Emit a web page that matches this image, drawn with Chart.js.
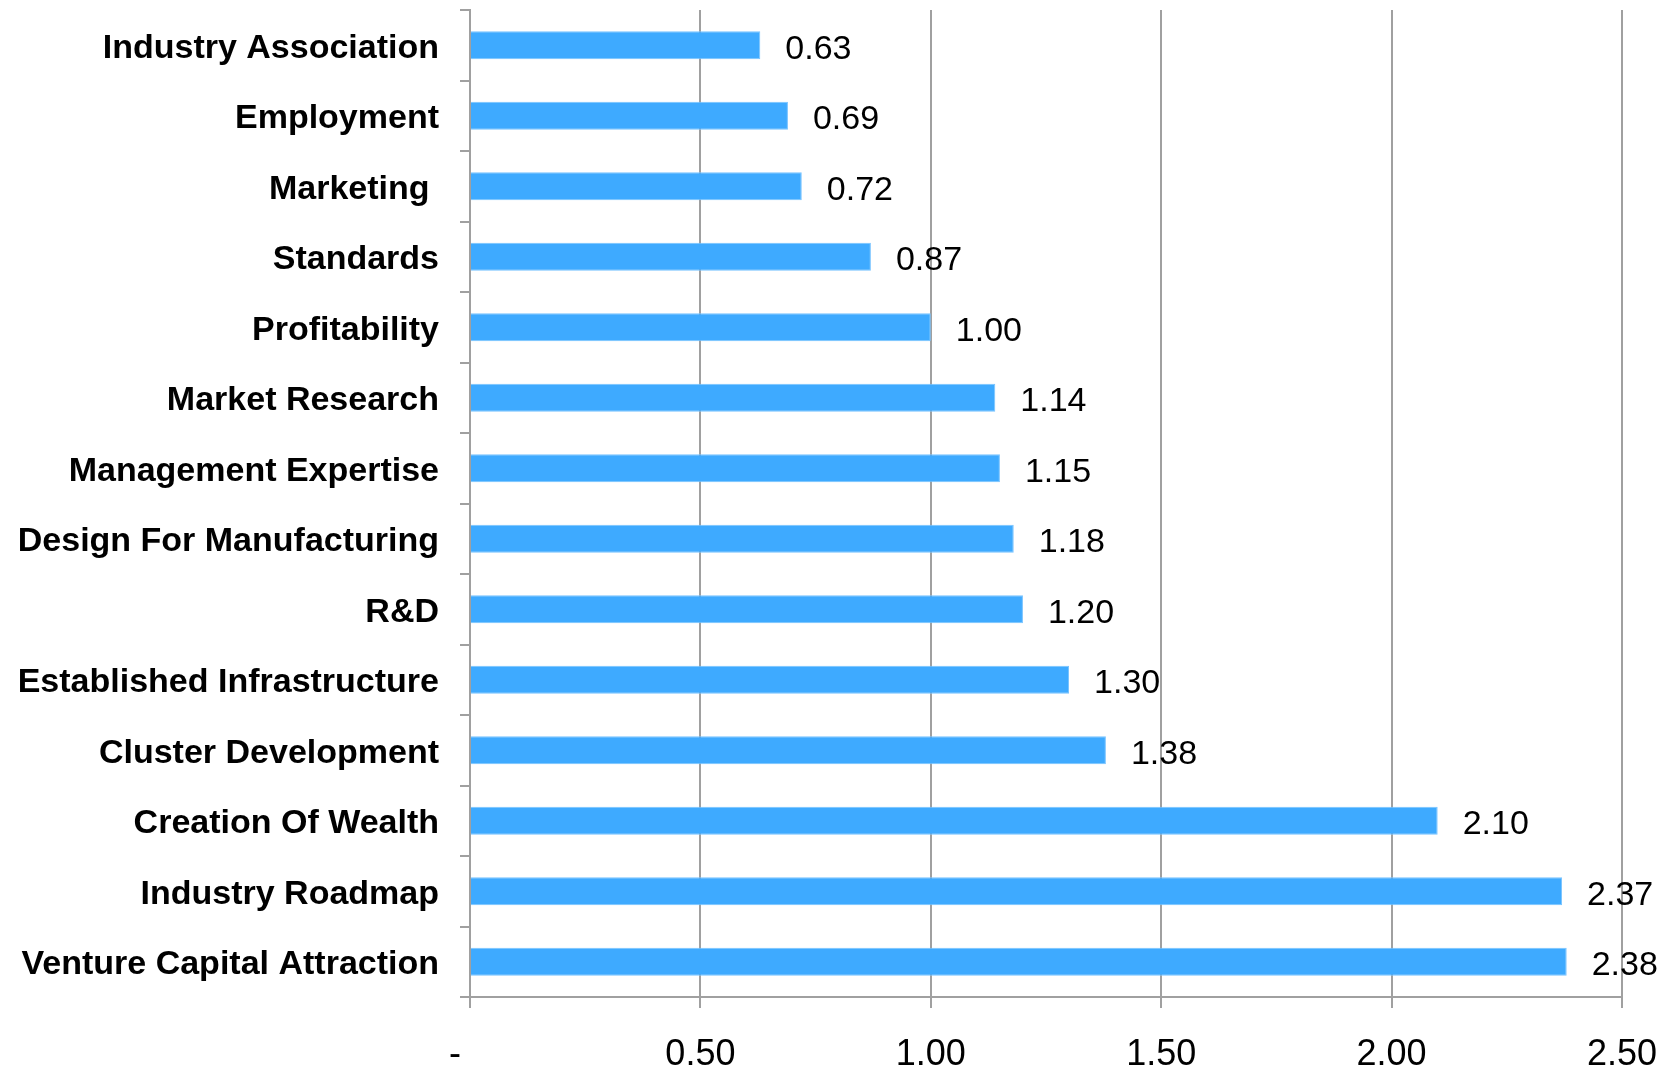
<!DOCTYPE html>
<html>
<head>
<meta charset="utf-8">
<script src="https://cdn.jsdelivr.net/npm/chart.js@4"></script>
<style>
  html, body { margin: 0; background: #fff; }
  #wrap { width: 1672px; height: 1070px; }
</style>
</head>
<body>
<div id="wrap"><canvas id="myChart"></canvas></div>
<script>
// Data
const categories = [
    'Industry Association',
    'Employment',
    'Marketing ',
    'Standards',
    'Profitability',
    'Market Research',
    'Management Expertise',
    'Design For Manufacturing',
    'R&D',
    'Established Infrastructure',
    'Cluster Development',
    'Creation Of Wealth',
    'Industry Roadmap',
    'Venture Capital Attraction'
];
const scores = [0.63, 0.69, 0.72, 0.87, 1.00, 1.14, 1.15, 1.18, 1.20, 1.30, 1.38, 2.10, 2.37, 2.38];
const xMin = 0;
const xMax = 2.5;
const xStep = 0.5;

const gridColor = '#a0a0a0';
const barColor = 'rgb(62, 170, 255)';

// Draws the number just right of each bar
const valueLabels = {
    id: 'valueLabels',
    afterDatasetsDraw(chart) {
        const ctx = chart.ctx;
        const meta = chart.getDatasetMeta(0);
        ctx.save();
        ctx.font = '34px "Liberation Sans", Arial, sans-serif';
        ctx.fillStyle = '#000';
        ctx.textAlign = 'left';
        ctx.textBaseline = 'middle';
        meta.data.forEach((bar, i) => {
            ctx.fillText(scores[i].toFixed(2), bar.x + 25, bar.y + 4);
        });
        ctx.restore();
    }
};

var ctx = document.getElementById('myChart').getContext('2d');
var myChart = new Chart(ctx, {
    type: 'bar',
    data: {
        labels: categories,
        datasets: [{
            data: scores,
            backgroundColor: barColor,
            borderColor: 'rgba(120, 195, 255, 1)',
            borderWidth: 1,
            barPercentage: 0.4,
            categoryPercentage: 1.0
        }]
    },
    options: {
        indexAxis: 'y',
        responsive: true,
        maintainAspectRatio: false,
        animation: false,
        layout: {
            padding: { left: 0, right: 50, top: 10, bottom: 0 }
        },
        plugins: {
            legend: { display: false },
            tooltip: { enabled: false }
        },
        scales: {
            y: {
                offset: true,
                grid: {
                    offset: true,
                    drawOnChartArea: false,
                    color: gridColor,
                    lineWidth: 2,
                    tickLength: 10
                },
                border: { color: gridColor, width: 2 },
                ticks: {
                    color: '#000',
                    padding: 21,
                    labelOffset: 3,
                    font: { family: '"Liberation Sans", Arial, sans-serif', size: 34, weight: 'bold' }
                },
                afterFit(scale) {
                    // keep the plot area where the reference has it
                    scale.paddingTop = 0;
                    scale.paddingBottom = 0;
                    scale.width = 470;
                }
            },
            x: {
                min: xMin,
                max: xMax,
                grid: {
                    color: gridColor,
                    lineWidth: 2,
                    tickLength: 11
                },
                border: { color: gridColor, width: 2 },
                ticks: {
                    stepSize: xStep,
                    color: '#000',
                    padding: 29,
                    font: { family: '"Liberation Sans", Arial, sans-serif', size: 36, lineHeight: 1 },
                    // zero shows as a dash, set a little left like the original
                    callback: (value) => value === 0 ? '-   ' : Number(value).toFixed(2)
                },
                afterFit(scale) {
                    scale.paddingLeft = 0;
                    scale.paddingRight = 0;
                    scale.height = 73;
                }
            }
        }
    },
    plugins: [valueLabels]
});
</script>
</body>
</html>
